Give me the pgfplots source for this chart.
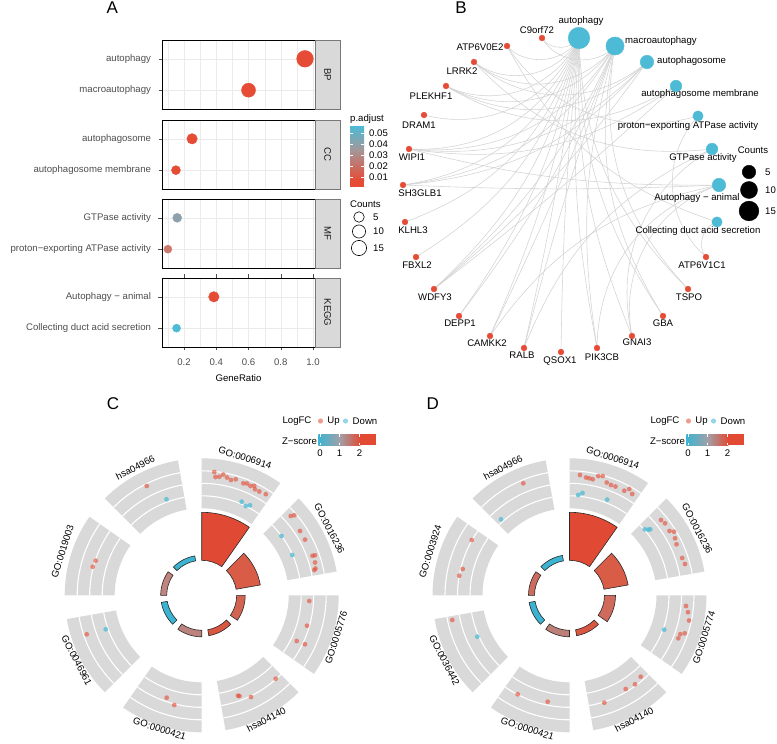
\documentclass[border=0pt]{standalone}
\usepackage{fontspec}
\setmainfont{Liberation Sans}
\usepackage{pgfplots}
\pgfplotsset{compat=1.18}
\usetikzlibrary{backgrounds}

\newcommand{\fs}{\fontsize{9.6}{11.5}\selectfont}
\definecolor{npgred}{RGB}{230,75,53}
\definecolor{npgblue}{RGB}{77,187,213}
\definecolor{gridc}{RGB}{235,235,235}
\definecolor{labc}{RGB}{77,77,77}
\definecolor{stripc}{RGB}{217,217,217}
\definecolor{stripb}{RGB}{120,120,120}
\definecolor{stript}{RGB}{26,26,26}
\definecolor{secgrey}{RGB}{217,217,217}
\definecolor{edgec}{RGB}{210,210,210}
\definecolor{barline}{RGB}{40,40,40}
\definecolor{zcyan}{RGB}{60,180,210}
\definecolor{zgrey}{RGB}{160,160,168}
\definecolor{zred}{RGB}{226,74,52}
\definecolor{pmid}{RGB}{140,160,175}
\definecolor{pgrey}{RGB}{165,150,152}
\definecolor{prose}{RGB}{205,120,110}
\definecolor{zc1}{RGB}{224,74,52}
\definecolor{zc2}{RGB}{216,92,70}
\definecolor{zc3}{RGB}{212,100,82}
\definecolor{zc4}{RGB}{218,86,64}
\definecolor{zc5}{RGB}{188,130,125}
\definecolor{zc6}{RGB}{60,179,209}
\definecolor{zc7}{RGB}{194,132,127}
\definecolor{zc8}{RGB}{60,179,209}
\definecolor{zd3}{RGB}{208,106,92}
\definecolor{zd5}{RGB}{190,127,120}
\definecolor{zd7}{RGB}{203,108,95}

\pgfplotsset{colormap={padj}{rgb255(0pt)=(230,75,53) rgb255(115pt)=(230,75,53) rgb255(360pt)=(205,120,110) rgb255(607pt)=(165,150,152) rgb255(800pt)=(140,160,175) rgb255(1000pt)=(77,187,213)}}

\pgfplotsset{
 facet/.style={
  anchor=south west, scale only axis, width=153pt, height=69pt,
  xmin=0.0636, xmax=1.012, ymin=0.4, ymax=2.6,
  xtick={0.2,0.4,0.6,0.8,1.0}, minor xtick={0.1,0.3,0.5,0.7,0.9},
  ytick={1,2},
  xmajorgrids=true, xminorgrids=true, ymajorgrids=true,
  major grid style={draw=gridc, line width=0.6pt},
  minor grid style={draw=gridc, line width=0.3pt},
  axis line style={draw=black, line width=0.9pt},
  tick align=outside, major tick length=3.5pt, minor tick length=0pt,
  tick style={draw=labc, line width=0.5pt},
  yticklabel style={font=\fs, text=labc, xshift=-4pt},
  xticklabels={}, xtick style={draw=none},
  colormap name=padj, point meta min=0.001, point meta max=0.0564,
  clip=false,
 },
 dotA/.style={scatter, only marks, mark=*, point meta=explicit,
  scatter/use mapped color={draw=mapped color, fill=mapped color},
  visualization depends on={2.0+1.45*sqrt(\thisrow{n}) \as \msz},
  scatter/@pre marker code/.append style={/tikz/mark size=\msz}},
 upC/.style={only marks, mark=*, mark size=2.4pt, color=npgred, mark options={fill opacity=0.6, draw opacity=0}},
 dnC/.style={only marks, mark=*, mark size=2.4pt, color=npgblue, mark options={fill opacity=0.75, draw opacity=0}},
}

\newcommand{\gsec}[4]{%
 \path[fill=secgrey] ([shift={(#3:87pt)}]axis cs:#1,#2) arc[start angle=#3, end angle=#4, radius=87pt] -- ([shift={(#4:137pt)}]axis cs:#1,#2) arc[start angle=#4, end angle=#3, radius=137pt] -- cycle;
 \draw[white, line width=1.1pt] ([shift={(#3:99.5pt)}]axis cs:#1,#2) arc[start angle=#3, end angle=#4, radius=99.5pt];
 \draw[white, line width=1.1pt] ([shift={(#3:112pt)}]axis cs:#1,#2) arc[start angle=#3, end angle=#4, radius=112pt];
 \draw[white, line width=1.1pt] ([shift={(#3:124.5pt)}]axis cs:#1,#2) arc[start angle=#3, end angle=#4, radius=124.5pt];
}
\newcommand{\zbar}[6]{%
 \path[fill=#6, draw=barline, line width=0.6pt] ([shift={(#3:35pt)}]axis cs:#1,#2) arc[start angle=#3, end angle=#4, radius=35pt] -- ([shift={(#4:#5pt)}]axis cs:#1,#2) arc[start angle=#4, end angle=#3, radius=#5pt] -- cycle;
}
\newcommand{\slab}[6]{%
 \node[font=\fs, inner sep=0pt, rotate=#4] at ([shift={(#3:#5pt)}]axis cs:#1,#2) {#6};
}
\newcommand{\wtick}[1]{%
 \draw[white, line width=0.6pt] (axis cs:#1,434.3) -- (axis cs:#1,436.6);
 \draw[white, line width=0.6pt] (axis cs:#1,442.7) -- (axis cs:#1,445);
}
\newcommand{\ptick}[1]{%
 \draw[white, line width=0.6pt] (axis cs:350,#1) -- (axis cs:353,#1);
 \draw[white, line width=0.6pt] (axis cs:361,#1) -- (axis cs:364,#1);
}
\newcommand{\lab}[3]{\node[font=\fs, inner sep=0pt] at (axis cs:#1,#2) {#3};}
\newcommand{\labw}[3]{\node[font=\fs, inner sep=0pt, anchor=west] at (axis cs:#1,#2) {#3};}
% network edge gene #1 -> term #2, bowed towards the centre of the circle layout
\newcommand{\edge}[2]{%
 \pgfmathsetmacro{\dd}{360-13.333*(#1+#2-1)}%
 \pgfmathsetmacro{\ph}{min(\dd,360-\dd)}%
 \pgfmathsetmacro{\bb}{0.72*(90-\ph/2)}%
 \ifdim\dd pt<180pt \draw[edge] (g#1) to[bend left=\bb] (t#2);\else \draw[edge] (g#1) to[bend right=\bb] (t#2);\fi
}

\begin{document}
\begin{tikzpicture}
\useasboundingbox (0pt,0pt) rectangle (777pt,744pt);
\begin{axis}[at={(0pt,0pt)}, anchor=south west, scale only axis, width=777pt, height=744pt,
  xmin=0, xmax=777, ymin=0, ymax=744, y dir=reverse, hide axis, clip=false]

% ================= Panel C =================
\gsec{201.7}{595.3}{90}{55}
\gsec{201.7}{595.3}{45}{10}
\gsec{201.7}{595.3}{0}{-35}
\gsec{201.7}{595.3}{-45}{-80}
\gsec{201.7}{595.3}{-90}{-125}
\gsec{201.7}{595.3}{-135}{-170}
\gsec{201.7}{595.3}{180}{145}
\gsec{201.7}{595.3}{135}{100}
\zbar{201.7}{595.3}{90}{55}{83}{zc1}
\zbar{201.7}{595.3}{45}{10}{59.5}{zc2}
\zbar{201.7}{595.3}{0}{-35}{43.5}{zc3}
\zbar{201.7}{595.3}{-45}{-80}{41}{zc4}
\zbar{201.7}{595.3}{-90}{-125}{41.5}{zc5}
\zbar{201.7}{595.3}{-135}{-170}{41}{zc6}
\zbar{201.7}{595.3}{180}{145}{41}{zc7}
\zbar{201.7}{595.3}{135}{100}{40}{zc8}
\slab{201.7}{595.3}{72.5}{-17.5}{144}{GO:0006914}
\slab{201.7}{595.3}{27.5}{-62.5}{144}{GO:0016236}
\slab{201.7}{595.3}{-17.5}{72.5}{141}{GO:0005776}
\slab{201.7}{595.3}{-62.5}{27.5}{140}{hsa04140}
\slab{201.7}{595.3}{-107.5}{-17.5}{140}{GO:0000421}
\slab{201.7}{595.3}{-152.5}{-62.5}{141}{GO:0046961}
\slab{201.7}{595.3}{162.5}{72.5}{146}{GO:0019003}
\slab{201.7}{595.3}{117.5}{27.5}{144}{hsa04966}
\addplot[upC] coordinates {
(214.3,472) (215.5,477) (219.5,476.7) (223.3,474.5) (227,477.5) (231,480) (235.7,479.3)
(243.3,483.3) (247,483.5) (250.5,486) (254.2,485.8) (255,489.3) (259.3,491.5) (265.8,494.2)
(290.7,516) (294.3,515.3) (300,531) (305,539.6) (312.5,555.8) (315,555.3) (315,562.5) (315.5,568.5) (314.3,570)
(309.3,601) (307,625.7) (296.7,641) (305,644.3)
(275.7,678.7) (238,695.7) (239.5,696) (251,697)
(166.7,697.7) (174.3,705)
(86.7,634.3)
(95.7,560.7) (92.7,566.7)
(146.7,486)};
\addplot[dnC] coordinates {
(241.7,501.7) (245.7,506) (250,505.3) (281.5,536) (292.3,555) (105.7,629.3) (166.5,499.3)};
\addplot[only marks, mark=*, mark size=2.6pt, color=npgred, mark options={fill opacity=0.55, draw opacity=0}] coordinates {(320.5,421)};
\addplot[only marks, mark=*, mark size=2.6pt, color=npgblue, mark options={fill opacity=0.6, draw opacity=0}] coordinates {(345.5,421)};
\lab{297}{421}{LogFC}
\lab{333.5}{421}{Up}
\lab{365}{421}{Down}
\lab{299.5}{441.5}{Z−score}
\shade[left color=zcyan, right color=zgrey] (axis cs:318.3,434.3) rectangle (axis cs:339.8,445);
\shade[left color=zgrey, right color=zred] (axis cs:339.5,434.3) rectangle (axis cs:360.3,445);
\fill[zred] (axis cs:360,434.3) rectangle (axis cs:376,445);
\wtick{320}\wtick{339.5}\wtick{359.5}
\lab{320}{452.8}{0}
\lab{339.5}{452.8}{1}
\lab{359.5}{452.8}{2}

% ================= Panel D =================
\gsec{569.5}{595.3}{90}{55}
\gsec{569.5}{595.3}{45}{10}
\gsec{569.5}{595.3}{0}{-35}
\gsec{569.5}{595.3}{-45}{-80}
\gsec{569.5}{595.3}{-90}{-125}
\gsec{569.5}{595.3}{-135}{-170}
\gsec{569.5}{595.3}{180}{145}
\gsec{569.5}{595.3}{135}{100}
\zbar{569.5}{595.3}{90}{55}{83}{zc1}
\zbar{569.5}{595.3}{45}{10}{59.5}{zc2}
\zbar{569.5}{595.3}{0}{-35}{46}{zd3}
\zbar{569.5}{595.3}{-45}{-80}{41}{zc4}
\zbar{569.5}{595.3}{-90}{-125}{41.5}{zd5}
\zbar{569.5}{595.3}{-135}{-170}{41}{zc6}
\zbar{569.5}{595.3}{180}{145}{41}{zd7}
\zbar{569.5}{595.3}{135}{100}{40.5}{zc8}
\slab{569.5}{595.3}{72.5}{-17.5}{144}{GO:0006914}
\slab{569.5}{595.3}{27.5}{-62.5}{144}{GO:0016236}
\slab{569.5}{595.3}{-17.5}{72.5}{141}{GO:0005774}
\slab{569.5}{595.3}{-62.5}{27.5}{140}{hsa04140}
\slab{569.5}{595.3}{-107.5}{-17.5}{140}{GO:0000421}
\slab{569.5}{595.3}{-152.5}{-62.5}{141}{GO:0036442}
\slab{569.5}{595.3}{162.5}{72.5}{146}{GO:0003924}
\slab{569.5}{595.3}{117.5}{27.5}{144}{hsa04966}
\addplot[upC] coordinates {
(580,475) (586,477.5) (589.3,478.3) (592.7,479.3) (598.3,476) (602.7,476) (606.7,482.5)
(611,485) (615.5,486.5) (624.3,490.7) (629.3,489) (632.2,494)
(661,520) (665,523.3) (669.5,531) (674,531.7) (675,538.3) (676.5,544.3) (682.2,558) (685,564)
(686,606) (688,612.2) (689,620.5) (684.7,633.3) (680.3,634.2) (678.3,638.3)
(640.7,676.7) (635,684.3) (625.7,689) (604.3,702.7)
(517.7,694.3) (547.7,701.7)
(452.3,620)
(471.7,540) (462.7,569) (459.3,575.7)
(523.3,483.3)};
\addplot[dnC] coordinates {
(578.2,495) (582.5,493) (607.2,499.6) (644.8,529.3) (648.2,529.6) (650.3,529.3) (664.2,629.7) (477.3,636.7) (501,519.3)};
\addplot[only marks, mark=*, mark size=2.6pt, color=npgred, mark options={fill opacity=0.55, draw opacity=0}] coordinates {(688.5,421)};
\addplot[only marks, mark=*, mark size=2.6pt, color=npgblue, mark options={fill opacity=0.6, draw opacity=0}] coordinates {(713.5,421)};
\lab{665}{421}{LogFC}
\lab{701.5}{421}{Up}
\lab{733}{421}{Down}
\lab{667.5}{441.5}{Z−score}
\shade[left color=zcyan, right color=zgrey] (axis cs:686.3,434.3) rectangle (axis cs:707.8,445);
\shade[left color=zgrey, right color=zred] (axis cs:707.5,434.3) rectangle (axis cs:728.3,445);
\fill[zred] (axis cs:728,434.3) rectangle (axis cs:744,445);
\wtick{688}\wtick{707.5}\wtick{727.5}
\lab{688}{452.8}{0}
\lab{707.5}{452.8}{1}
\lab{727.5}{452.8}{2}

% ================= Panel B =================
\coordinate (g1) at (axis cs:542,38);
\coordinate (g2) at (axis cs:507,46);
\coordinate (g3) at (axis cs:474,62);
\coordinate (g4) at (axis cs:446,86);
\coordinate (g5) at (axis cs:424,115);
\coordinate (g6) at (axis cs:409,149);
\coordinate (g7) at (axis cs:403,185);
\coordinate (g8) at (axis cs:405,222);
\coordinate (g9) at (axis cs:416,257);
\coordinate (g10) at (axis cs:434,289);
\coordinate (g11) at (axis cs:459,316);
\coordinate (g12) at (axis cs:490,336);
\coordinate (g13) at (axis cs:524,348);
\coordinate (g14) at (axis cs:561,352);
\coordinate (g15) at (axis cs:597,348);
\coordinate (g16) at (axis cs:632,336);
\coordinate (g17) at (axis cs:663,316);
\coordinate (g18) at (axis cs:688,289);
\coordinate (g19) at (axis cs:706,257);
\coordinate (t1) at (axis cs:579,38);
\coordinate (t2) at (axis cs:615,46);
\coordinate (t3) at (axis cs:647,62);
\coordinate (t4) at (axis cs:676,86);
\coordinate (t5) at (axis cs:698,116);
\coordinate (t6) at (axis cs:712,149);
\coordinate (t7) at (axis cs:719,185);
\coordinate (t8) at (axis cs:717,222);
\addplot[only marks, mark=*, mark size=2.9pt, color=npgred] table {
x y
542 38
507 46
474 62
446 86
424 115
409 149
403 185
405 222
416 257
434 289
459 316
490 336
524 348
561 352
597 348
632 336
663 316
688 289
706 257
};
\addplot[scatter, only marks, mark=*, point meta=\thisrow{n},
  scatter/use mapped color={draw=npgblue, fill=npgblue},
  visualization depends on={2.51+1.9*sqrt(\thisrow{n}) \as \msz},
  scatter/@pre marker code/.append style={/tikz/mark size=\msz}] table {
x y n
579 38 19
615 46 12
647 62 5
676 86 3
698 116 2
712 149 3
719 185 5
717 222 2
};
\lab{581}{21}{autophagy}
\labw{625}{41}{macroautophagy}
\labw{657}{61}{autophagosome}
\lab{700}{94}{autophagosome membrane}
\lab{688}{126}{proton−exporting ATPase activity}
\lab{703}{158}{GTPase activity}
\lab{697}{198}{Autophagy − animal}
\lab{698}{231}{Collecting duct acid secretion}
\lab{537}{30}{C9orf72}
\lab{480}{47}{ATP6V0E2}
\lab{462}{71}{LRRK2}
\lab{431}{96}{PLEKHF1}
\lab{419}{125}{DRAM1}
\lab{412}{157}{WIPI1}
\lab{420}{193}{SH3GLB1}
\lab{413}{230}{KLHL3}
\lab{417}{265}{FBXL2}
\lab{435}{297}{WDFY3}
\lab{460}{323}{DEPP1}
\lab{487}{343}{CAMKK2}
\lab{522}{355}{RALB}
\lab{560}{361}{QSOX1}
\lab{602}{357}{PIK3CB}
\lab{637}{342}{GNAI3}
\lab{663}{323}{GBA}
\lab{689}{297}{TSPO}
\lab{702}{265}{ATP6V1C1}
\lab{753}{150}{Counts}
\addplot[only marks, mark=*, mark size=6.76pt, black] coordinates {(749,172)};
\addplot[only marks, mark=*, mark size=8.52pt, black] coordinates {(749,190)};
\addplot[only marks, mark=*, mark size=9.87pt, black] coordinates {(749,211)};
\labw{765}{172}{5}
\labw{765}{190}{10}
\labw{765}{211}{15}

% ================= Panel A legends =================
\labw{350}{119}{p.adjust}
\shade[top color=npgblue, middle color=pmid, bottom color=pgrey] (axis cs:350,126) rectangle (axis cs:364,150.3);
\shade[top color=pgrey, middle color=prose, bottom color=npgred] (axis cs:350,150) rectangle (axis cs:364,180.3);
\fill[npgred] (axis cs:350,180) rectangle (axis cs:364,187);
\ptick{133}\ptick{144}\ptick{155}\ptick{166}\ptick{177}
\labw{369}{133}{0.05}
\labw{369}{144}{0.04}
\labw{369}{155}{0.03}
\labw{369}{166}{0.02}
\labw{369}{177}{0.01}
\labw{350}{204}{Counts}
\addplot[only marks, mark=o, mark size=5.24pt, black, mark options={line width=0.6pt}] coordinates {(359,217)};
\addplot[only marks, mark=o, mark size=6.59pt, black, mark options={line width=0.6pt}] coordinates {(359,231.5)};
\addplot[only marks, mark=o, mark size=7.6pt, black, mark options={line width=0.6pt}] coordinates {(359,248)};
\labw{373}{217}{5}
\labw{373}{231.5}{10}
\labw{373}{248}{15}

\node[font=\fontsize{17}{20}\selectfont, inner sep=0pt] at (axis cs:112.3,7.5) {A};
\node[font=\fontsize{17}{20}\selectfont, inner sep=0pt] at (axis cs:461,7.5) {B};
\node[font=\fontsize{17}{20}\selectfont, inner sep=0pt] at (axis cs:113,404) {C};
\node[font=\fontsize{17}{20}\selectfont, inner sep=0pt] at (axis cs:432.7,404) {D};
\end{axis}

% ================= Panel A facets =================
\begin{axis}[facet, at={(162pt,635pt)}, yticklabels={macroautophagy,autophagy}]
\addplot[dotA] table[x=x, y=y, meta=p] {
x y n p
0.95 2 19 0.0012
0.60 1 12 0.0025
};
\draw[fill=stripc, draw=stripb, line width=0.5pt] ([xshift=0.45pt]rel axis cs:1,0) rectangle ([xshift=25pt]rel axis cs:1,1);
\node[font=\fs, text=stript, rotate=-90] at ([xshift=12.7pt]rel axis cs:1,0.5) {BP};
\end{axis}
\begin{axis}[facet, at={(162pt,555pt)}, yticklabels={autophagosome membrane,autophagosome}]
\addplot[dotA] table[x=x, y=y, meta=p] {
x y n p
0.25 2 5 0.003
0.15 1 3 0.005
};
\draw[fill=stripc, draw=stripb, line width=0.5pt] ([xshift=0.45pt]rel axis cs:1,0) rectangle ([xshift=25pt]rel axis cs:1,1);
\node[font=\fs, text=stript, rotate=-90] at ([xshift=12.7pt]rel axis cs:1,0.5) {CC};
\end{axis}
\begin{axis}[facet, at={(162pt,476pt)}, yticklabels={proton−exporting ATPase activity,GTPase activity}]
\addplot[dotA] table[x=x, y=y, meta=p] {
x y n p
0.158 2 3 0.045
0.100 1 2 0.021
};
\draw[fill=stripc, draw=stripb, line width=0.5pt] ([xshift=0.45pt]rel axis cs:1,0) rectangle ([xshift=25pt]rel axis cs:1,1);
\node[font=\fs, text=stript, rotate=-90] at ([xshift=12.7pt]rel axis cs:1,0.5) {MF};
\end{axis}
\begin{axis}[facet, at={(162pt,397pt)}, yticklabels={Collecting duct acid secretion,Autophagy − animal},
  xticklabels={0.2,0.4,0.6,0.8,1.0}, xtick style={draw=labc, line width=0.5pt},
  xticklabel style={font=\fs, text=labc, yshift=-5pt},
  xlabel={GeneRatio}, xlabel style={font=\fs, yshift=-2pt}]
\addplot[dotA] table[x=x, y=y, meta=p] {
x y n p
0.385 2 5 0.002
0.154 1 2 0.056
};
\draw[fill=stripc, draw=stripb, line width=0.5pt] ([xshift=0.45pt]rel axis cs:1,0) rectangle ([xshift=25pt]rel axis cs:1,1);
\node[font=\fs, text=stript, rotate=-90] at ([xshift=12.7pt]rel axis cs:1,0.5) {KEGG};
\end{axis}

% ================= Panel B edges (behind the nodes) =================
\begin{pgfonlayer}{background}
\tikzset{edge/.style={draw=edgec, line width=0.55pt}}
\foreach \g in {1,...,18} {\edge{\g}{1}}
\foreach \g in {1,3,4,6,7,10,11,12,13,15,17,18} {\edge{\g}{2}}
\foreach \g in {3,4,6,7,10} {\edge{\g}{3}}
\foreach \g in {4,6,10} {\edge{\g}{4}}
\foreach \g in {2,19} {\edge{\g}{5}}
\foreach \g in {3,13,16} {\edge{\g}{6}}
\foreach \g in {6,7,12,15,16} {\edge{\g}{7}}
\foreach \g in {2,19} {\edge{\g}{8}}
\end{pgfonlayer}
\end{tikzpicture}
\end{document}
